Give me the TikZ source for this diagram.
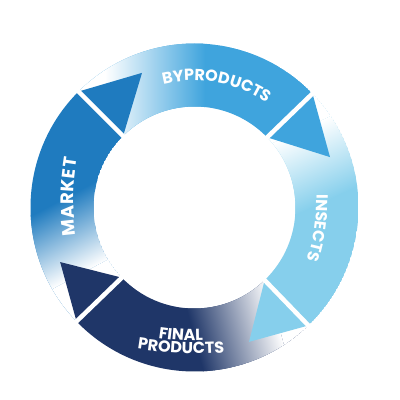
\documentclass[tikz,border=0pt]{standalone}
\usepackage{fontspec}
\newfontfamily\labfont{Poppins}
\usetikzlibrary{decorations.text}
\definecolor{cmarket}{RGB}{31,123,191}
\definecolor{cbyprod}{RGB}{63,164,221}
\definecolor{cinsect}{RGB}{134,207,236}
\definecolor{cfinal}{RGB}{31,54,104}
\newcommand\lblfont{\labfont\bfseries\fontsize{16}{16}\selectfont}
\newcommand\bigfont{\labfont\bfseries\fontsize{18}{18}\selectfont}
\newcommand\bandpath[2]{(#1:164) arc[start angle=#1, end angle=#2, radius=164] -- (#2:101) arc[start angle=#2, end angle=#1, radius=101] -- cycle}
% #1 start, #2 end, #3 colour, #4 gradient direction, #5,#6 white point, #7 gradient length
\newcommand\gradband[7]{%
  \begin{scope}
    \clip \bandpath{#1}{#2};
    \fill[#3] \bandpath{#1}{#2};
    \begin{scope}[transform canvas={rotate=#4}]
      \pgfmathsetmacro\xw{(#5)*cos(#4)+(#6)*sin(#4)}
      \fill[white] (\xw-400,-400) rectangle (\xw,400);
      \shade[left color=white,right color=#3] (\xw,-400) rectangle (\xw+#7,400);
    \end{scope}
  \end{scope}}
\tikzset{
  divider/.style={white, line width=4.5pt},
  lbl/.style={decorate, decoration={text along path, text color=white, text align=fit to path}},
}
\begin{document}
\begin{tikzpicture}[x=1pt,y=1pt]
\useasboundingbox[fill=white] (-194.5,-192.5) rectangle (205.5,207.5);
% bands (clockwise)
\gradband{224}{135}{cmarket}{118}{-134.5}{-77.5}{75}
\gradband{135}{44}{cbyprod}{0}{-89.5}{0}{100}
\gradband{44}{-46}{cinsect}{-65}{95.5}{72.5}{75}
\gradband{-46}{-136}{cfinal}{195}{85.5}{-122.5}{85}
% arrowheads
\fill[cmarket] (135:164) -- (111.3:144.5) -- (135:101) -- cycle;
\fill[cbyprod] (44:164) -- (20.4:144.6) -- (44:101) -- cycle;
\fill[cinsect] (-46:164) -- (-67.9:145) -- (-46:101) -- cycle;
\fill[cfinal] (224:164) -- (202.1:145) -- (224:101) -- cycle;
% dividers
\draw[divider] (135:97) -- (135:168);
\draw[divider] (44:97) -- (44:168);
\draw[divider] (-46:97) -- (-46:168);
\draw[divider] (224:97) -- (224:168);
% label paths
\coordinate (mkA) at (-118.5,-28.2);
\coordinate (mkB) at (-117.2,49.2);
\coordinate (inA) at (122.2,13.2);
\coordinate (inB) at (113.8,-49.2);
\coordinate (fiA) at (-36.2,-130.5);
\coordinate (fiB) at (7.2,-133.2);
\coordinate (prA) at (-57.2,-141.2);
\coordinate (prB) at (28.8,-145.5);
% labels
\path[lbl, decoration={text={|\lblfont|BYPRODUCTS}}] (104.2:127) arc[start angle=104.2, end angle=56, radius=127];
\path[lbl, decoration={text={|\bigfont|MARKET}}] (mkA) to[bend left=8] (mkB);
\path[lbl, decoration={text={|\lblfont|INSECTS}}] (inA) to[bend left=8] (inB);
\path[lbl, decoration={text={|\lblfont|FINAL}}] (fiA) to[bend right=5] (fiB);
\path[lbl, decoration={text={|\lblfont|PRODUCTS}}] (prA) to[bend right=6] (prB);
\end{tikzpicture}
\end{document}
